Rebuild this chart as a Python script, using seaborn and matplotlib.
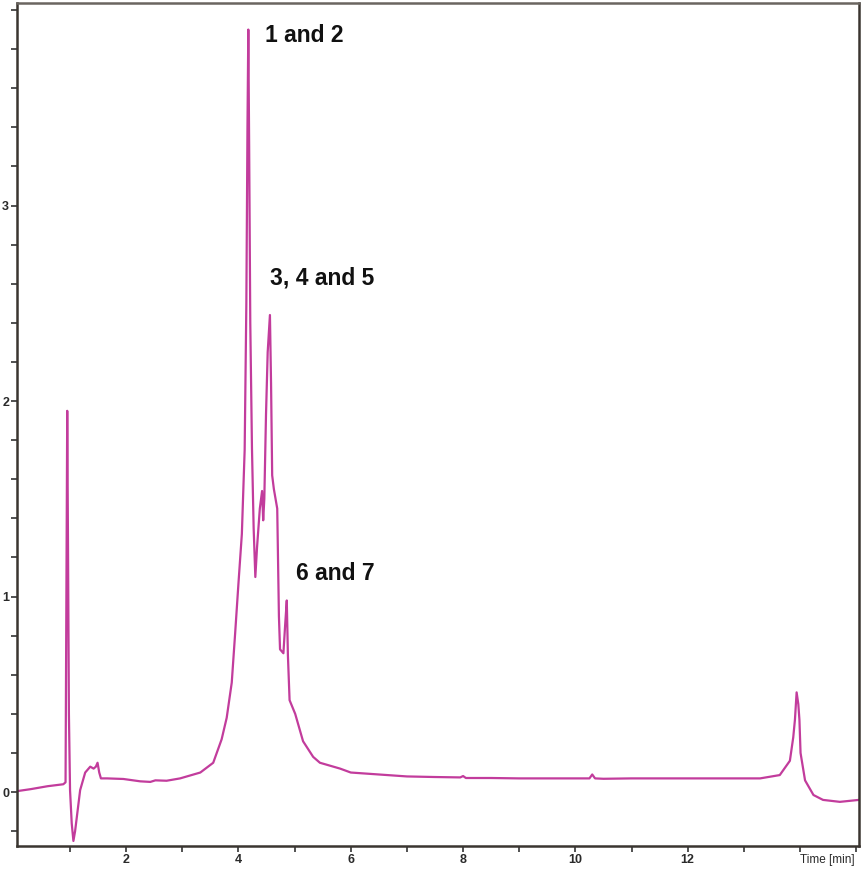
import numpy as np
import pandas as pd
import matplotlib
matplotlib.use("Agg")
import matplotlib.pyplot as plt
import seaborn as sns

# ---- data ----
time_min = [0.06, 0.3, 0.6, 0.88, 0.92, 0.935, 0.95, 0.965, 0.98, 1.0, 1.03, 1.06,
            1.09, 1.12, 1.18, 1.27, 1.36, 1.42, 1.46, 1.49, 1.52, 1.55, 1.66, 1.95,
            2.25, 2.43, 2.52, 2.72, 2.96, 3.32, 3.55, 3.70, 3.79, 3.88, 3.94, 4.00,
            4.06, 4.09, 4.11, 4.14, 4.16, 4.175, 4.19, 4.21, 4.24, 4.27, 4.30, 4.33,
            4.38, 4.42, 4.44, 4.46, 4.49, 4.52, 4.56, 4.58, 4.60, 4.63, 4.69, 4.72,
            4.74, 4.80, 4.83, 4.86, 4.88, 4.91, 5.01, 5.15, 5.33, 5.45, 5.81, 6.0,
            6.5, 7.0, 7.5, 7.95, 8.0, 8.05, 8.5, 9.0, 9.5, 10.0, 10.25, 10.3, 10.35,
            10.5, 11.0, 11.5, 12.0, 12.5, 13.0, 13.29, 13.64, 13.82, 13.88, 13.91,
            13.94, 13.97, 13.99, 14.01, 14.09, 14.24, 14.41, 14.71, 15.05]
signal = [0.005, 0.015, 0.03, 0.04, 0.05, 1.0, 1.95, 1.2, 0.4, 0.01, -0.16, -0.25,
          -0.2, -0.13, 0.01, 0.10, 0.13, 0.12, 0.13, 0.15, 0.10, 0.07, 0.07, 0.067,
          0.055, 0.052, 0.06, 0.058, 0.07, 0.10, 0.15, 0.27, 0.38, 0.56, 0.81, 1.07,
          1.32, 1.58, 1.75, 2.5, 3.4, 3.90, 3.3, 2.4, 1.76, 1.35, 1.10, 1.25,
          1.45, 1.54, 1.39, 1.50, 1.93, 2.25, 2.44, 2.09, 1.62, 1.55, 1.45, 0.90,
          0.73, 0.71, 0.85, 0.98, 0.70, 0.47, 0.40, 0.26, 0.18, 0.15, 0.12, 0.10,
          0.09, 0.08, 0.077, 0.075, 0.082, 0.072, 0.072, 0.07, 0.07, 0.07, 0.07, 0.09, 0.07,
          0.068, 0.07, 0.07, 0.07, 0.07, 0.07, 0.07, 0.087, 0.16, 0.28, 0.37,
          0.51, 0.45, 0.37, 0.20, 0.06, -0.015, -0.04, -0.05, -0.04]

x_ticks = list(range(1, 16))
x_ticklabels = ["", "2", "", "4", "", "6", "", "8", "", "10", "", "12", "", "Time [min]", ""]
y_major = [0, 1, 2, 3]

peak_labels = ["1 and 2", "3, 4 and 5", "6 and 7"]
peak_label_pos = [(4.475, 3.87), (4.56, 2.63), (5.03, 1.12)]

df = pd.DataFrame({"Time [min]": time_min, "Signal": signal})

sns.set_style("ticks")
plt.rcParams["font.family"] = ["Liberation Sans", "DejaVu Sans"]

fig = plt.figure(figsize=(8.65, 8.76), dpi=100)
ax = fig.add_axes([0.0193, 0.0342, 0.9737, 0.9624])

sns.lineplot(data=df, x="Time [min]", y="Signal", ax=ax, color="#c23c9c",
             linewidth=1.6, sort=False, estimator=None)

ax.set_xlim(0.05, 15.05)
ax.set_ylim(-0.276, 4.036)

ax.set_xticks(x_ticks)
ax.set_xticklabels(x_ticklabels)

yt = [round(v, 1) for v in np.arange(-0.2, 4.01, 0.2)]
ax.set_yticks(yt)
ax.set_yticklabels([str(int(round(v))) if (abs(v - round(v)) < 1e-9 and int(round(v)) in y_major) else "" for v in yt])

ax.tick_params(axis="both", direction="out", length=4, width=1.2, color="#333333",
               labelsize=9, labelcolor="#2a2a2a", pad=1.5)
for lab in ax.get_xticklabels() + ax.get_yticklabels():
    lab.set_fontweight("bold")
for lab in ax.get_xticklabels():
    if lab.get_text() == "Time [min]":
        lab.set_horizontalalignment("left")
        lab.set_fontweight("normal")
        lab.set_fontsize(8.5)
        lab.set_x(13.92)

ax.set_xlabel("")
ax.set_ylabel("")

for side in ["left", "bottom", "right", "top"]:
    ax.spines[side].set_visible(True)
    ax.spines[side].set_color("#3a3530")
    ax.spines[side].set_linewidth(1.8)
ax.spines["top"].set_color("#6a6560")

for txt, (tx, ty) in zip(peak_labels, peak_label_pos):
    ax.text(tx, ty, txt, fontsize=16.5, fontweight="bold", family="Liberation Sans",
            ha="left", va="center", color="#111111")

fig.savefig("out.png", dpi=100)
